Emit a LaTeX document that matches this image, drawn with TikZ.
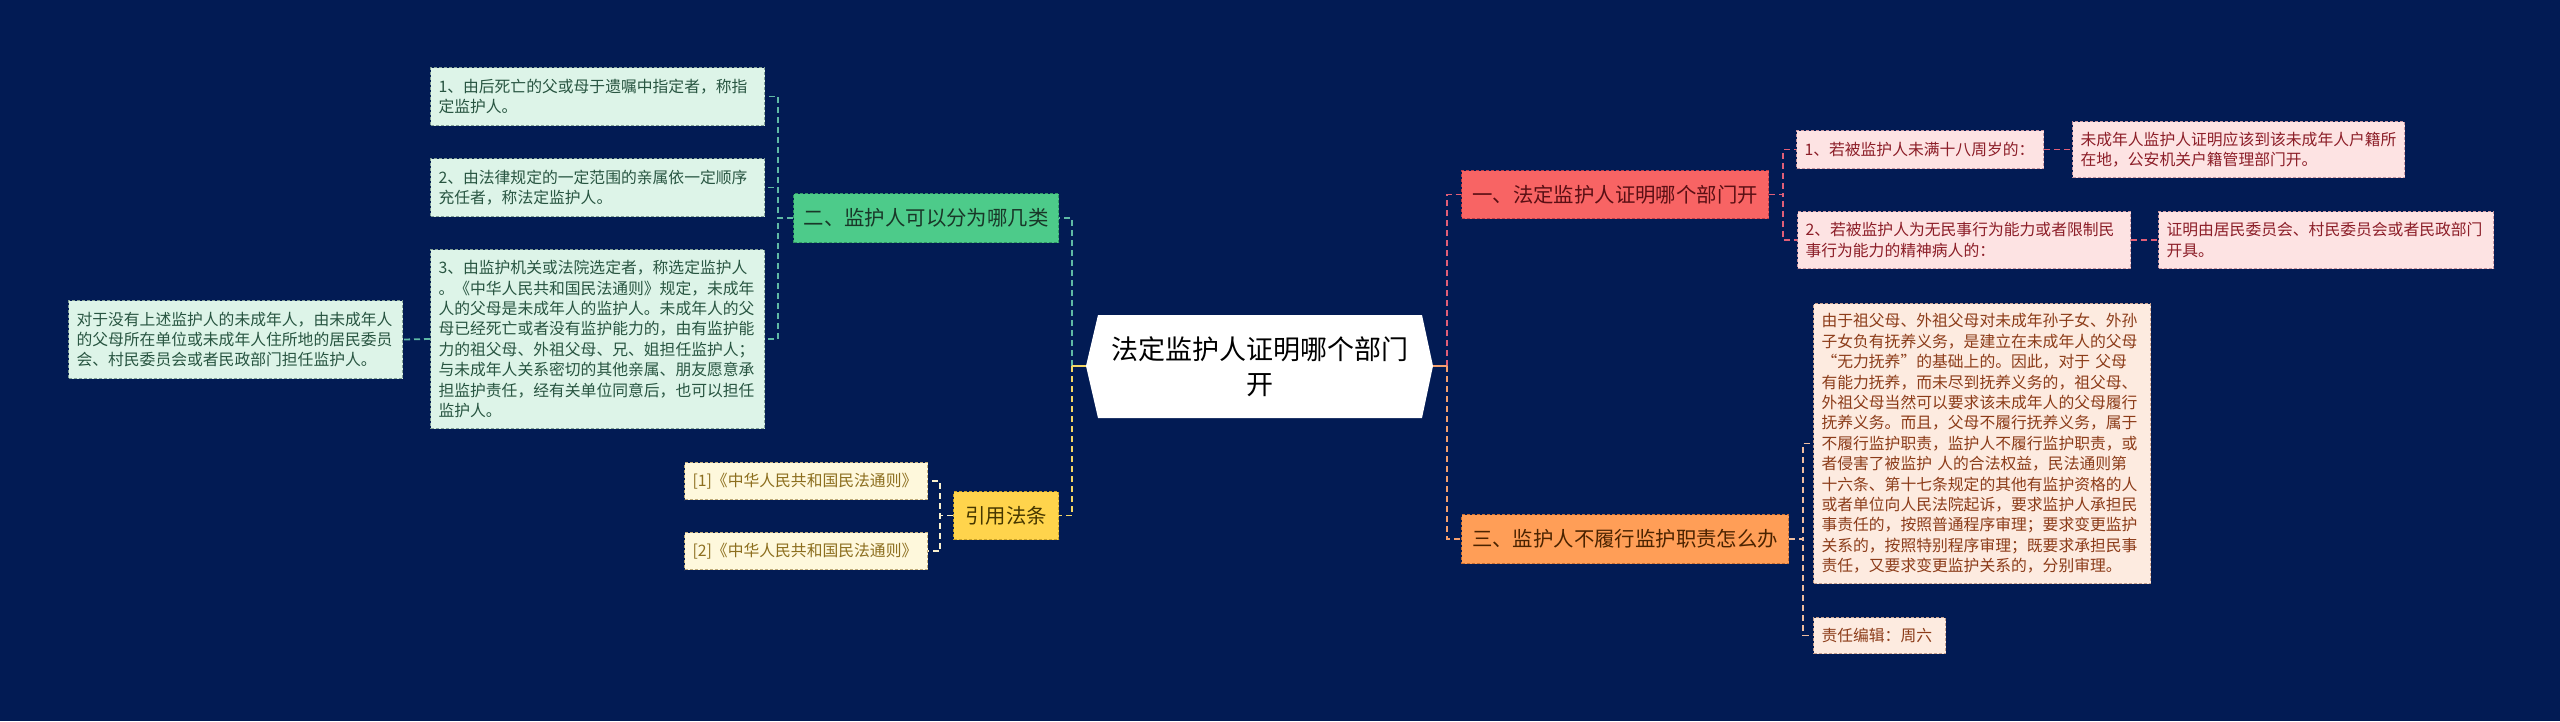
\documentclass[tikz,border=0pt]{standalone}
\usepackage{fontspec}
\setmainfont{Noto Sans CJK SC}
\definecolor{bg}{RGB}{2,27,84}
\definecolor{gfill}{RGB}{77,203,138}
\definecolor{gdraw}{RGB}{50,150,100}
\definecolor{gtext}{RGB}{25,55,40}
\definecolor{gcfill}{RGB}{221,244,232}
\definecolor{gcdraw}{RGB}{130,160,150}
\definecolor{gctext}{RGB}{40,85,65}
\definecolor{gline}{RGB}{95,185,165}
\definecolor{yfill}{RGB}{255,212,76}
\definecolor{ydraw}{RGB}{200,160,40}
\definecolor{ytext}{RGB}{70,55,0}
\definecolor{ycfill}{RGB}{254,248,220}
\definecolor{ycdraw}{RGB}{190,170,120}
\definecolor{yctext}{RGB}{140,110,30}
\definecolor{yline}{RGB}{245,215,100}
\definecolor{ycline}{RGB}{250,240,205}
\definecolor{rfill}{RGB}{248,100,100}
\definecolor{rdraw}{RGB}{190,60,70}
\definecolor{rtext}{RGB}{90,15,20}
\definecolor{rcfill}{RGB}{253,227,227}
\definecolor{rcdraw}{RGB}{200,150,160}
\definecolor{rctext}{RGB}{140,30,40}
\definecolor{rline}{RGB}{225,95,120}
\definecolor{ofill}{RGB}{255,158,87}
\definecolor{odraw}{RGB}{200,110,50}
\definecolor{otext}{RGB}{75,35,0}
\definecolor{ocfill}{RGB}{253,235,224}
\definecolor{ocdraw}{RGB}{200,160,140}
\definecolor{octext}{RGB}{140,60,25}
\definecolor{oline}{RGB}{245,160,110}
\definecolor{ocline}{RGB}{240,190,160}
\tikzset{
  boxbase/.style={anchor=north west, dashed, dash pattern=on 3pt off 2pt, line width=1pt,
    inner xsep=8pt, inner ysep=0pt, align=left},
  small/.style={boxbase, font=\fontsize{15.8}{20.4}\selectfont},
  big/.style={boxbase, align=center, font=\fontsize{20.4}{24}\selectfont},
  gnode/.style={big, fill=gfill, draw=gdraw, text=gtext},
  gchild/.style={small, fill=gcfill, draw=gcdraw, text=gctext},
  ynode/.style={big, fill=yfill, draw=ydraw, text=ytext},
  ychild/.style={small, fill=ycfill, draw=ycdraw, text=yctext},
  rnode/.style={big, fill=rfill, draw=rdraw, text=rtext},
  rchild/.style={small, fill=rcfill, draw=rcdraw, text=rctext},
  onode/.style={big, fill=ofill, draw=odraw, text=otext},
  ochild/.style={small, fill=ocfill, draw=ocdraw, text=octext},
  conn/.style={line width=1.8pt, dash pattern=on 6pt off 4pt},
  gconn/.style={conn, draw=gline},
  yconn/.style={conn, draw=yline},
  ycconn/.style={conn, draw=ycline},
  rconn/.style={conn, draw=rline},
  oconn/.style={conn, draw=oline},
  occonn/.style={conn, draw=ocline},
}
\begin{document}
\begin{tikzpicture}[x=1pt,y=-1pt]
\useasboundingbox (0,0) rectangle (2560,721);
\fill[bg] (0,0) rectangle (2560,721);

% root hexagon
\fill[white] (1086,366) -- (1098,315) -- (1422,315) -- (1433,366) -- (1422,418) -- (1098,418) -- cycle;
\node[align=center, font=\fontsize{27}{35}\selectfont, text=black] (root) at (1260,367) {法定监护人证明哪个部门\\开};
\coordinate (rootL) at (1086,366);
\coordinate (rootR) at (1433,366);

% left side
\node[gnode, minimum width=265pt, minimum height=49pt] (g) at (793,193) {二、监护人可以分为哪几类};
\node[gchild, minimum width=334pt, minimum height=58pt, text width=318pt] (b1) at (430,67)
  {1、由后死亡的父或母于遗嘱中指定者，称指\\定监护人。};
\node[gchild, minimum width=334pt, minimum height=58pt, text width=318pt] (b2) at (430,158)
  {2、由法律规定的一定范围的亲属依一定顺序\\充任者，称法定监护人。};
\node[gchild, minimum width=334pt, minimum height=179pt, text width=318pt] (b3) at (430,249)
  {3、由监护机关或法院选定者，称选定监护人\\。《中华人民共和国民法通则》规定，未成年\\人的父母是未成年人的监护人。未成年人的父\\母已经死亡或者没有监护能力的，由有监护能\\力的祖父母、外祖父母、兄、姐担任监护人；\\与未成年人关系密切的其他亲属、朋友愿意承\\担监护责任，经有关单位同意后，也可以担任\\监护人。};
\node[gchild, minimum width=334pt, minimum height=78pt, text width=318pt] (fl) at (68,300)
  {对于没有上述监护人的未成年人，由未成年人\\的父母所在单位或未成年人住所地的居民委员\\会、村民委员会或者民政部门担任监护人。};

\node[ynode, minimum width=105pt, minimum height=48pt] (yl) at (953,491) {引用法条};
\node[ychild, minimum width=243pt, minimum height=37pt, text width=227pt] (c1) at (684,462) {[1]《中华人民共和国民法通则》};
\node[ychild, minimum width=243pt, minimum height=37pt, text width=227pt] (c2) at (684,532) {[2]《中华人民共和国民法通则》};

% right side
\node[rnode, minimum width=307pt, minimum height=48pt] (r) at (1461,170) {一、法定监护人证明哪个部门开};
\node[rchild, minimum width=247pt, minimum height=38pt, text width=231pt] (r1) at (1796,130) {1、若被监护人未满十八周岁的：};
\node[rchild, minimum width=332pt, minimum height=56pt, text width=316pt] (r1a) at (2072,121)
  {未成年人监护人证明应该到该未成年人户籍所\\在地，公安机关户籍管理部门开。};
\node[rchild, minimum width=333pt, minimum height=57pt, text width=317pt] (r2) at (1797,211)
  {2、若被监护人为无民事行为能力或者限制民\\事行为能力的精神病人的：};
\node[rchild, minimum width=335pt, minimum height=57pt, text width=319pt] (r2a) at (2158,211)
  {证明由居民委员会、村民委员会或者民政部门\\开具。};

\node[onode, minimum width=327pt, minimum height=49pt] (o) at (1461,514) {三、监护人不履行监护职责怎么办};
\node[ochild, minimum width=337pt, minimum height=280pt, text width=321pt] (bg) at (1813,303)
  {由于祖父母、外祖父母对未成年孙子女、外孙\\子女负有抚养义务，是建立在未成年人的父母\\“无力抚养”的基础上的。因此，对于~父母\\有能力抚养，而未尽到抚养义务的，祖父母、\\外祖父母当然可以要求该未成年人的父母履行\\抚养义务。而且，父母不履行抚养义务，属于\\不履行监护职责，监护人不履行监护职责，或\\者侵害了被监护~人的合法权益，民法通则第\\十六条、第十七条规定的其他有监护资格的人\\或者单位向人民法院起诉，要求监护人承担民\\事责任的，按照普通程序审理；要求变更监护\\关系的，按照特别程序审理；既要求承担民事\\责任，又要求变更监护关系的，分别审理。};
\node[ochild, minimum width=132pt, minimum height=36pt, text width=116pt] (ed) at (1813,617) {责任编辑：周六};

% connectors
\draw[gconn] (rootL) ++(-14,0) |- (g.east);
\draw[yconn] (rootL) ++(-14,0) |- (yl.east);
\draw[yline, line width=1.8pt] (rootL) -- ++(-14,0);
\draw[gconn] (g.west) -- ++(-15,0) |- (b1.east);
\draw[gconn] (g.west) -- ++(-15,0) |- (b2.east);
\draw[gconn] (g.west) -- ++(-15,0) |- (b3.east);
\draw[gconn] (b3.west) -- (fl.east);
\draw[ycconn] (yl.west) -- ++(-13,0) |- (c1.east);
\draw[ycconn] (yl.west) -- ++(-13,0) |- (c2.east);

\draw[rconn] (rootR) ++(14,0) |- (r.west);
\draw[oconn] (rootR) ++(14,0) |- (o.west);
\draw[oline, line width=1.8pt] (rootR) -- ++(14,0);
\draw[rconn] (r.east) -- ++(14,0) |- (r1.west);
\draw[rconn] (r.east) -- ++(14,0) |- (r2.west);
\draw[rconn] (r1.east) -- (r1a.west);
\draw[rconn] (r2.east) -- (r2a.west);
\draw[occonn] (o.east) -- ++(14,0) |- (bg.west);
\draw[occonn] (o.east) -- ++(14,0) |- (ed.west);
\end{tikzpicture}
\end{document}
